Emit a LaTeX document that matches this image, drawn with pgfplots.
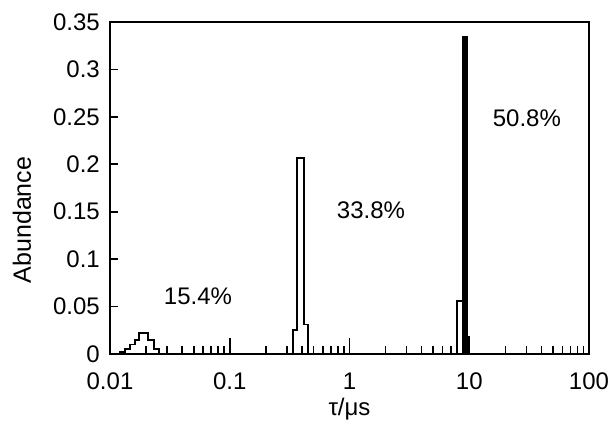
\documentclass[border=0pt]{standalone}
\usepackage{fontspec}
\setmainfont{Liberation Sans}
\usepackage{pgfplots}
\pgfplotsset{compat=1.18}
\begin{document}
\begin{tikzpicture}
\useasboundingbox (-110pt,-66pt) rectangle (502pt,354pt);
\begin{axis}[
  scale only axis,
  width=479pt, height=332pt,
  xmode=log,
  xmin=0.01, xmax=100,
  ymin=0, ymax=0.35,
  axis line style={line width=1.6pt},
  xtick={0.01,0.1,1,10,100},
  xticklabels={0.01,0.1,1,10,100},
  ytick={0,0.05,0.1,0.15,0.2,0.25,0.3,0.35},
  yticklabels={0,0.05,0.1,0.15,0.2,0.25,0.3,0.35},
  minor y tick num=0,
  tick align=inside,
  xtick pos=bottom, ytick pos=left,
  major tick length=16pt, minor tick length=8pt,
  ytick style={/pgfplots/major tick length=8pt},
  tick style={line width=1.6pt, black},
  tick label style={font=\fontsize{24}{26}\selectfont, inner sep=0pt},
  xticklabel style={anchor=north, yshift=-19pt},
  yticklabel style={anchor=east, xshift=-10pt},
  xlabel={τ/μs},
  ylabel={Abundance},
  every axis x label/.style={at={(axis description cs:0.5,0)}, anchor=base, yshift=-61pt, font=\fontsize{24}{26}\selectfont},
  every axis y label/.style={at={(axis description cs:0,0.5)}, rotate=90, anchor=center, yshift=88pt, xshift=-32pt, font=\fontsize{25}{27}\selectfont},
]
% hump near 0.02
\addplot[const plot, line width=1.8pt, black] coordinates {
 (0.0115,0) (0.01212,0.002) (0.01334,0.005) (0.01469,0.010) (0.01617,0.015)
 (0.01746,0.022) (0.02075,0.015) (0.02329,0.005) (0.02561,0) (0.027,0)};
% peak near 0.4
\addplot[const plot, line width=1.8pt, black] coordinates {
 (0.32,0) (0.3375,0.025) (0.3643,0.2066) (0.417,0.031) (0.450,0) (0.47,0)};
% filled tall bar near 9
\addplot[fill=black, draw=black, line width=1.8pt] coordinates {
 (8.87,0) (8.87,0.334) (9.58,0.334) (9.58,0)} -- cycle;
% peak near 9
\addplot[const plot, line width=1.8pt, black] coordinates {
 (7.6,0) (7.90,0.056) (8.87,0.334) (9.58,0.018) (10.05,0) (10.3,0)};
\node[font=\fontsize{24}{26}\selectfont] at (axis cs:0.0543,0.0611) {15.4\%};
\node[font=\fontsize{24}{26}\selectfont] at (axis cs:1.512,0.1518) {33.8\%};
\node[font=\fontsize{24}{26}\selectfont] at (axis cs:30.3,0.2488) {50.8\%};
\end{axis}
\end{tikzpicture}
\end{document}
